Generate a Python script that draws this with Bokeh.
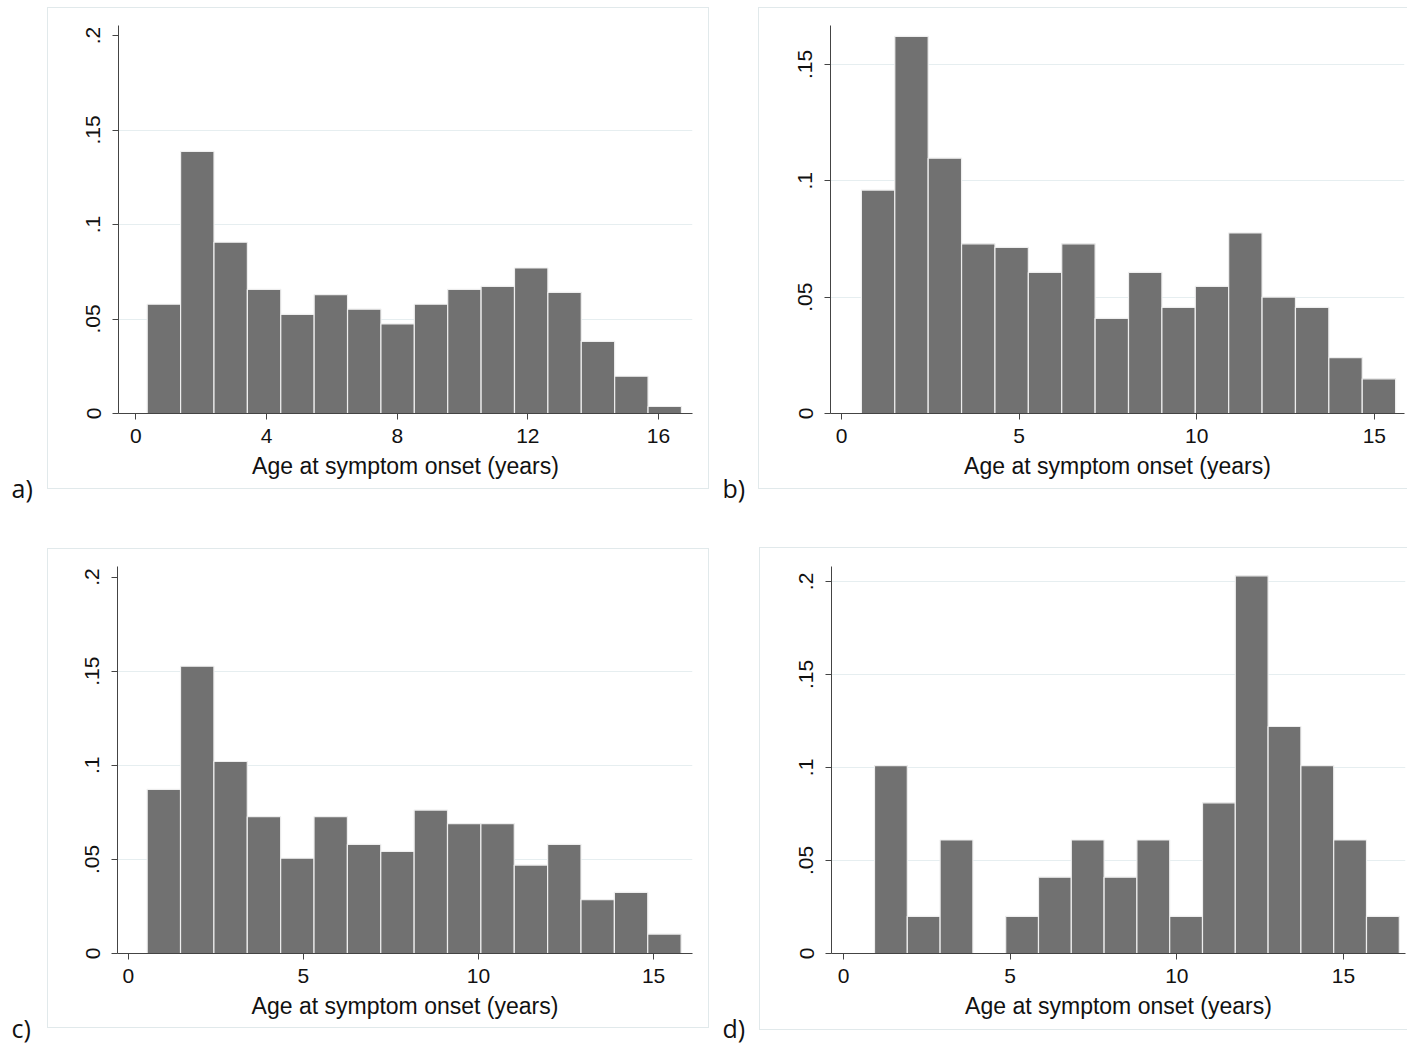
from bokeh.plotting import figure
from bokeh.models import FixedTicker, Title, Range1d, ColumnDataSource
from bokeh.layouts import column, row
from bokeh.embed import file_html
from bokeh.resources import INLINE

# ---- histogram data (density per bin), four cohorts ----
a_bin_start, a_bin_width = 0.346, 1.0222
a_density = [0.0578, 0.1387, 0.0906, 0.0657, 0.0525, 0.0629, 0.0552, 0.0474,
             0.0578, 0.0657, 0.0673, 0.0770, 0.0641, 0.0382, 0.0197, 0.0037]

b_bin_start, b_bin_width = 0.56, 0.940
b_density = [0.0960, 0.1620, 0.1097, 0.0729, 0.0714, 0.0606, 0.0729, 0.0409,
             0.0606, 0.0456, 0.0546, 0.0776, 0.0500, 0.0456, 0.0240, 0.0149]

c_bin_start, c_bin_width = 0.537, 0.953
c_density = [0.0872, 0.1526, 0.1020, 0.0727, 0.0506, 0.0727, 0.0580, 0.0543,
             0.0762, 0.0690, 0.0690, 0.0470, 0.0580, 0.0286, 0.0325, 0.0103]

d_bin_start, d_bin_width = 0.93, 0.984
d_density = [0.101, 0.020, 0.061, 0.0, 0.020, 0.041, 0.061, 0.041,
             0.061, 0.020, 0.081, 0.203, 0.122, 0.101, 0.061, 0.020]

x_ticks_a = [0, 4, 8, 12, 16]
x_ticks_bcd = [0, 5, 10, 15]
y_ticks = [0, 0.05, 0.1, 0.15, 0.2]
y_tick_labels = {0: "0", 0.05: ".05", 0.1: ".1", 0.15: ".15", 0.2: ".2"}
x_title = "Age at symptom onset (years)"

FONT = "Liberation Sans"
BAR = "#717171"
GRID = "#e6eef0"
FRAME = "#e1e9eb"


def panel(tag, start, width, density, xticks, yticks, grid_ticks, xr, yr,
          cell, frame, box, tag_x):
    cx, cy, cw, ch = cell
    fl, fr, ft, fb = frame
    bl, br, bt, bb = box
    # thin light rectangle around each graph region, drawn by the page's CSS
    frame_css = (":host { position: relative; }\n"
                 ":host::after { content: ''; position: absolute; pointer-events: none; "
                 f"left: {bl - cx}px; top: {bt - cy}px; width: {br - bl}px; height: {bb - bt}px; "
                 f"border: 1.5px solid {FRAME}; box-sizing: border-box; }}")
    p = figure(width=cw, height=ch, output_backend="svg", toolbar_location=None,
               x_range=Range1d(*xr), y_range=Range1d(*yr),
               min_border_left=fl - cx, min_border_right=cx + cw - fr,
               min_border_top=ft - cy, min_border_bottom=cy + ch - fb,
               stylesheets=[frame_css])
    p.outline_line_color = None
    p.background_fill_color = "white"
    p.border_fill_color = "white"

    left = [start + i * width for i in range(len(density))]
    right = [start + (i + 1) * width for i in range(len(density))]
    src = ColumnDataSource(dict(left=left, right=right, top=density,
                                bottom=[0] * len(density)))
    p.quad(left="left", right="right", top="top", bottom="bottom", source=src,
           fill_color=BAR, line_color="#eeeeee", line_width=1.2)

    p.xgrid.visible = False
    p.ygrid.ticker = FixedTicker(ticks=grid_ticks)
    p.ygrid.grid_line_color = GRID
    p.ygrid.grid_line_width = 1.2

    for ax in (p.xaxis[0], p.yaxis[0]):
        ax.axis_line_color = "#444444"
        ax.axis_line_width = 1
        ax.major_tick_line_color = "#444444"
        ax.major_tick_in = 0
        ax.major_tick_out = 6
        ax.minor_tick_line_color = None
        ax.major_label_text_font = FONT
        ax.major_label_text_font_size = "21px"
        ax.major_label_text_color = "#111111"

    p.xaxis.ticker = FixedTicker(ticks=xticks)
    p.xaxis.major_label_standoff = 9
    p.xaxis.axis_label = x_title
    p.xaxis.axis_label_text_font = FONT
    p.xaxis.axis_label_text_font_size = "23px"
    p.xaxis.axis_label_text_font_style = "normal"
    p.xaxis.axis_label_text_color = "#111111"
    p.xaxis.axis_label_standoff = 7

    p.yaxis.ticker = FixedTicker(ticks=yticks)
    p.yaxis.major_label_overrides = {t: y_tick_labels[t] for t in yticks}
    p.yaxis.major_label_orientation = "vertical"
    p.yaxis.major_label_standoff = 12

    # panel letter below the axis title, shifted left of the frame
    p.add_layout(Title(text=tag, align="left", offset=tag_x - fl, standoff=-25,
                       text_font="Open Sans", text_font_size="25px",
                       text_font_style="normal", text_color="#111111"), "below")
    return p


pa = panel("a)", a_bin_start, a_bin_width, a_density, x_ticks_a, y_ticks,
           [0.05, 0.1, 0.15], (-0.533, 17.04), (0, 0.2053),
           (0, 0, 715, 528), (118, 692, 25, 413), (47, 709, 7, 489), 11)
pb = panel("b)", b_bin_start, b_bin_width, b_density, x_ticks_bcd, y_ticks[:4],
           [0.05, 0.1, 0.15], (-0.31, 15.85), (0, 0.1667),
           (715, 0, 692, 528), (830, 1404, 24, 413), (758, 1430, 7, 489), 722)
pc = panel("c)", c_bin_start, c_bin_width, c_density, x_ticks_bcd, y_ticks,
           [0.05, 0.1, 0.15], (-0.31, 16.11), (0, 0.2056),
           (0, 528, 715, 518), (117, 692, 566, 953), (47, 709, 548, 1028), 11)
pd_ = panel("d)", d_bin_start, d_bin_width, d_density, x_ticks_bcd, y_ticks,
            [0.05, 0.1, 0.15, 0.2], (-0.36, 16.86), (0, 0.208),
            (715, 528, 692, 518), (831, 1405, 565, 957), (759, 1430, 547, 1030), 722)

layout = column(row(pa, pb), row(pc, pd_))
open("out.html", "w").write(file_html(layout, INLINE))
